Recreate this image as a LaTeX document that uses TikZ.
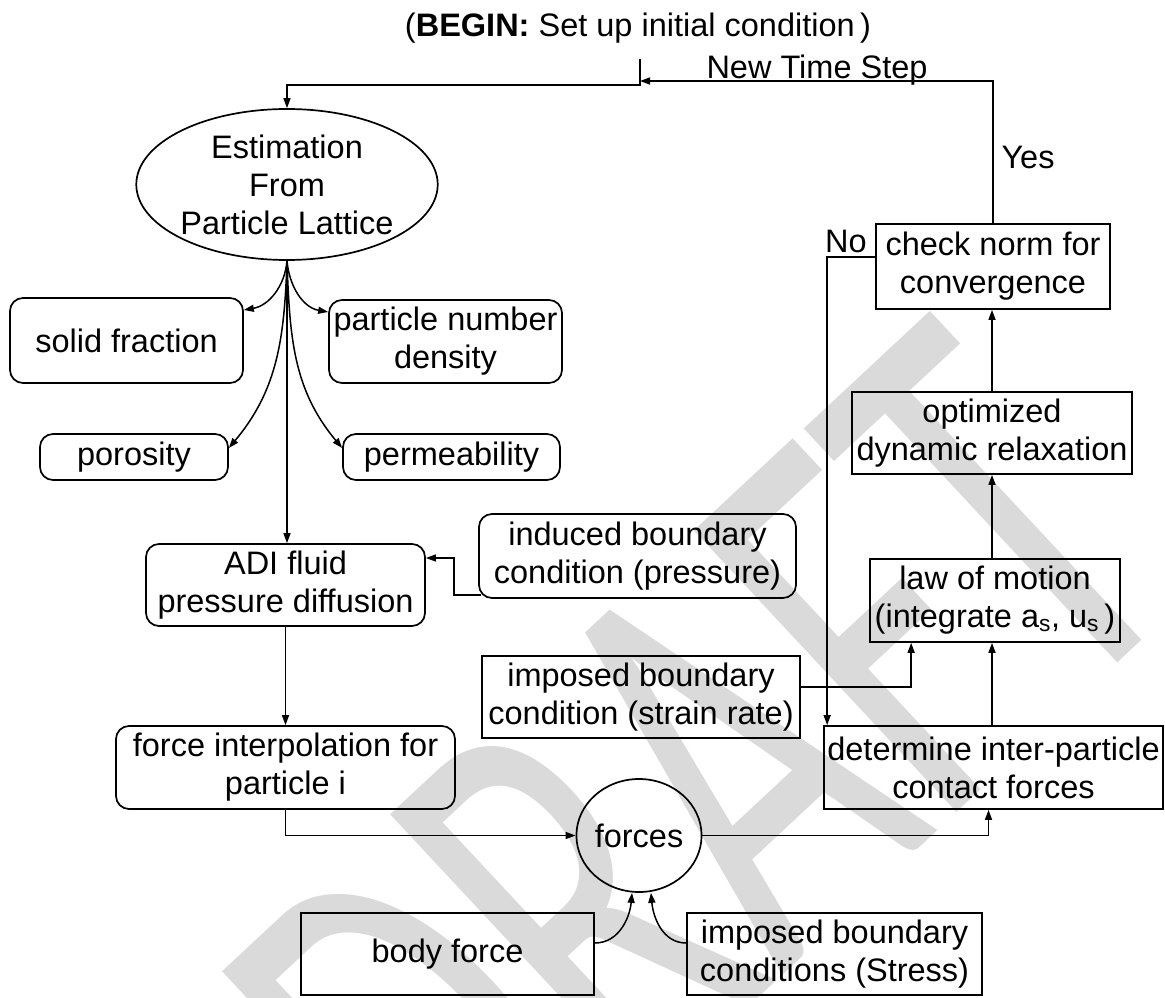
\documentclass[tikz,border=0pt]{standalone}
\usepackage{fontspec}
\setmainfont{Liberation Sans}
\newfontfamily\wmfont{Carlito}
\usetikzlibrary{arrows.meta,shapes.geometric}
\definecolor{wm}{RGB}{218,218,218}
\tikzset{
  txt/.style={font=\fontsize{32.5}{38}\selectfont},
  base/.style={txt, draw, line width=1.7pt, align=center, inner sep=0pt},
  rbox/.style={base, rounded corners=13pt},
  sbox/.style={base},
  oval/.style={base, ellipse},
  ln/.style={line width=1.5pt},
  arr/.style={line width=1.5pt, -{Triangle[length=10pt,width=7pt]}},
  lbl/.style={txt, inner sep=0pt, anchor=base},
}
\begin{document}
\begin{tikzpicture}[x=1pt,y=-1pt]
\useasboundingbox (0,0) rectangle (1165,998);
\begin{scope}
\clip (0,0) rectangle (1165,998);
\node[rotate=43, xscale=0.62, text=wm, font=\wmfont\fontsize{600}{600}\selectfont, inner sep=0pt] (wmk) at (700,789) {DRAFT};
\end{scope}

% labels
\node[lbl] (title) at (638,37) {(\textbf{BEGIN:} Set up initial condition\,)};
\node[lbl] (nts) at (817,78) {New Time Step};
\node[lbl] (yes) at (1028,168) {Yes};
\node[lbl] (no) at (846,252) {No};

% nodes
\node[oval, minimum width=296pt, minimum height=151pt] (est) at (287,184.5) {Estimation\\From\\Particle Lattice};
\node[rbox, minimum width=233pt, minimum height=85pt] (solid) at (126.5,340.5) {solid fraction};
\node[rbox, minimum width=233pt, minimum height=83pt] (pnd) at (445.5,341.5) {particle number\\density};
\node[rbox, minimum width=188pt, minimum height=46pt] (poro) at (134,457) {porosity};
\node[rbox, minimum width=217pt, minimum height=46pt] (perm) at (451.5,457) {permeability};
\node[rbox, minimum width=279pt, minimum height=82pt] (adi) at (285.5,585) {ADI fluid\\pressure diffusion};
\node[rbox, minimum width=317pt, minimum height=84pt] (ind) at (637.5,556) {induced boundary\\condition (pressure)};
\node[rbox, minimum width=339pt, minimum height=83pt] (fi) at (285.5,767.5) {force interpolation for\\particle i};
\node[oval, minimum width=116pt, minimum height=113pt] (forces) at (639,835.5) {forces};
\node[sbox, minimum width=293pt, minimum height=82pt] (body) at (447.5,954) {body force};
\node[sbox, minimum width=295pt, minimum height=82pt] (stress) at (834.5,954) {imposed boundary\\conditions (Stress)};
\node[sbox, minimum width=318pt, minimum height=82pt] (strain) at (641,697) {imposed boundary\\condition (strain rate)};
\node[sbox, minimum width=339pt, minimum height=83pt] (det) at (993.5,767.5) {determine inter-particle\\contact forces};
\node[sbox, minimum width=250pt, minimum height=83pt] (law) at (995,600.5) {law of motion\\(integrate a\textsubscript{s}, u\textsubscript{s}\,)};
\node[sbox, minimum width=280pt, minimum height=82pt] (opt) at (992,433) {optimized\\dynamic relaxation};
\node[sbox, minimum width=234pt, minimum height=85pt] (check) at (993,266.5) {check norm for\\convergence};

% connectors
\coordinate (tb) at (640,59);
\coordinate (j1) at (640,81);
\coordinate (j2) at (640,85);
\draw[arr] (tb) -- (j2) -| (est.north);
\draw[arr] (check.north) |- (j1);
\draw[arr] ([yshift=9.5pt]check.west) -| ([xshift=4pt]det.north west);
\draw[arr] (opt.north) -- (opt.north |- check.south);
\draw[arr] (law.north -| opt.north) -- (opt.south);
\draw[arr] (det.north -| opt.north) -- (law.south -| opt.north);
\draw[arr] ([yshift=10pt]strain.east) -| ([xshift=42pt]law.south west);
\draw[arr] (forces.east) -| ([xshift=-5pt]det.south);
\draw[arr] (fi.south) |- (forces.west);
\draw[arr] (adi.south) -- (fi.north);
\draw[arr] (est.south) -- (est.south |- adi.north);
\draw[arr] ([yshift=-39pt,xshift=3pt]ind.west) -- ++(-27,0) |- ([yshift=27pt]adi.east);
\draw[arr] (est.south) to[out=-95,in=10] ([yshift=30.5pt]solid.east);
\draw[arr] (est.south) to[out=-85,in=170] ([yshift=29.5pt]pnd.west);
\draw[arr] (est.south) to[out=-92,in=50] ([yshift=9pt]poro.east);
\draw[arr] (est.south) to[out=-88,in=130] ([yshift=9pt]perm.west);
\draw[arr] ([yshift=11pt]body.east) to[out=0,in=-95] ([xshift=-7pt]forces.south);
\draw[arr] ([yshift=11pt]stress.west) to[out=180,in=-85] ([xshift=12pt]forces.south);
\end{tikzpicture}
\end{document}
